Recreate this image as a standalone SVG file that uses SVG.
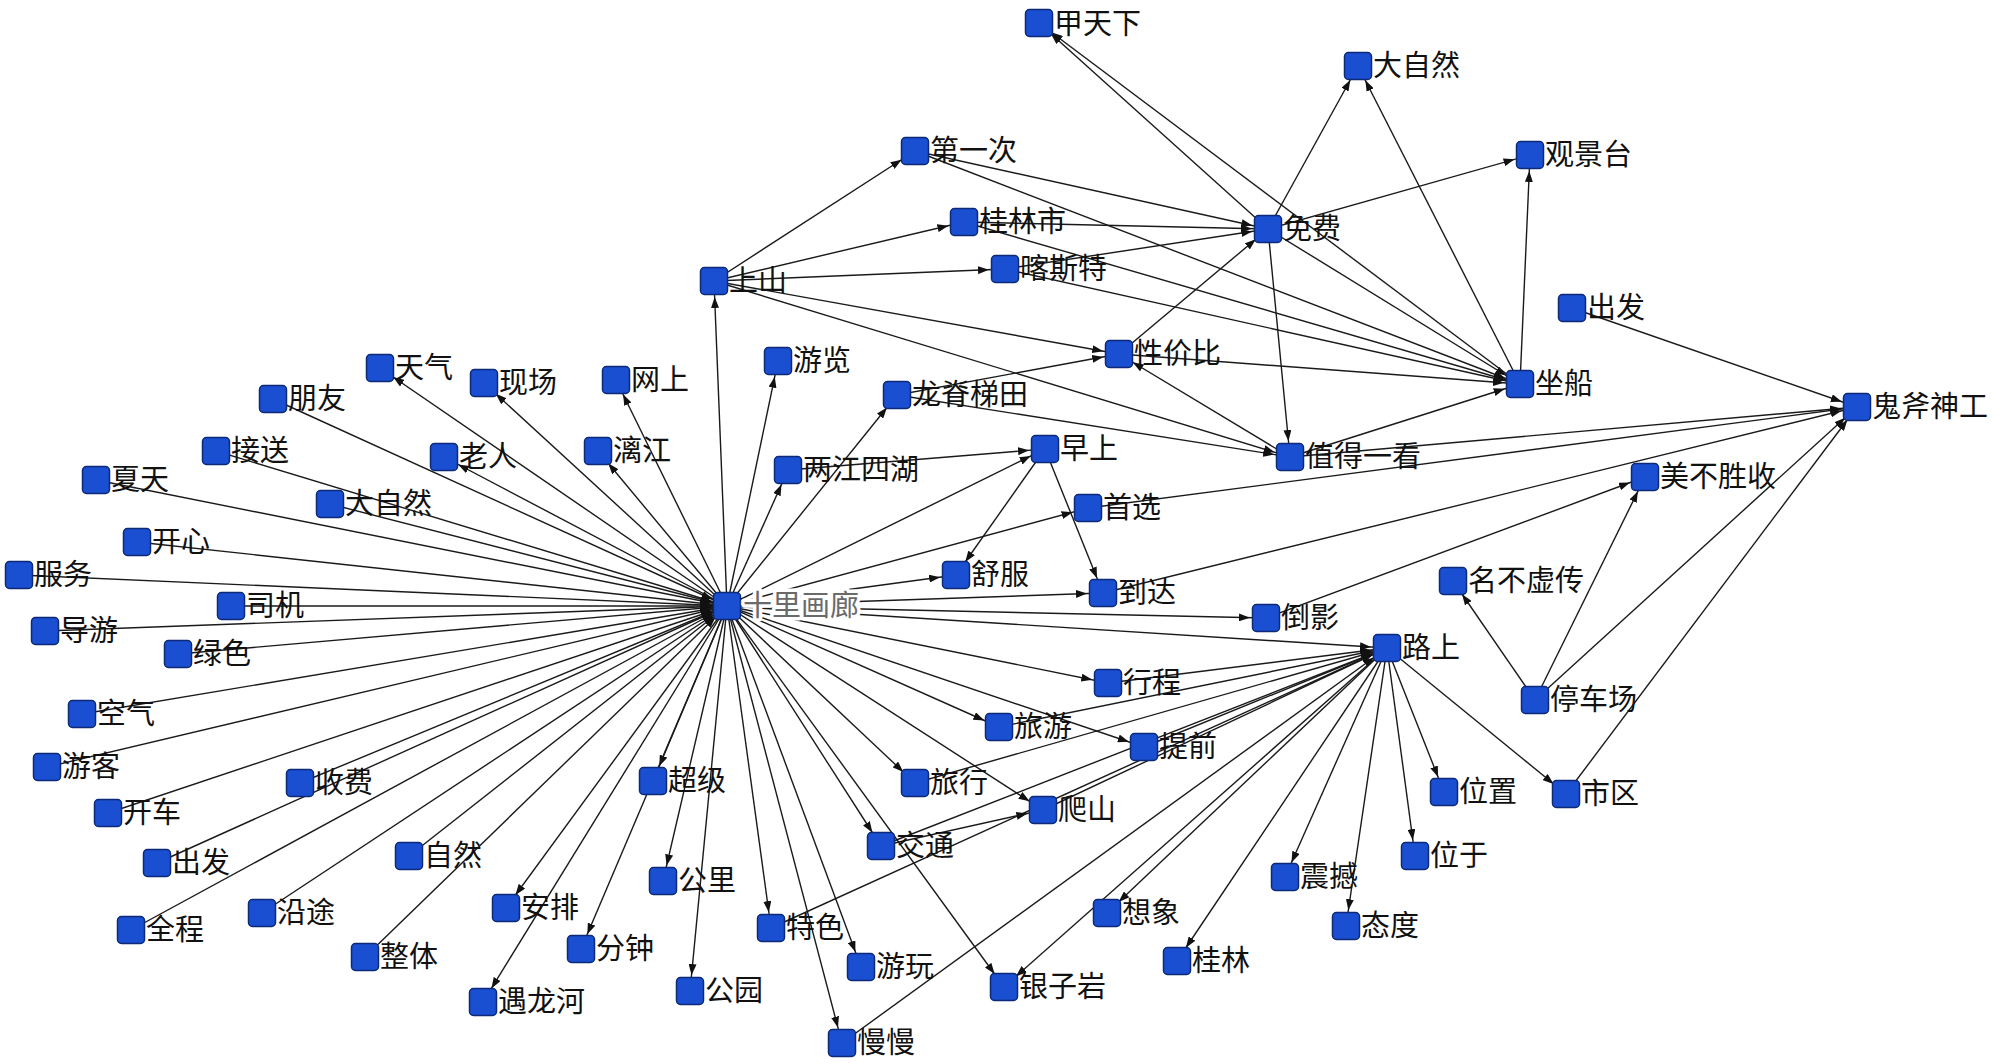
<svg xmlns="http://www.w3.org/2000/svg" width="1999" height="1064" viewBox="0 0 1999 1064">
<style>
.e{stroke:#1a1a1a;stroke-width:1.4;fill:none;marker-end:url(#a)}
.n{fill:#1a4fd2;stroke:#0c2a78;stroke-width:1.5}
.t{font-family:"Noto Sans CJK SC","Noto Sans CJK JP",sans-serif;font-size:29px;fill:#111}
.hub{fill:#6a6a6a;stroke:#fff;stroke-width:7px;stroke-linejoin:round;paint-order:stroke}
</style>
<defs>
<marker id="a" viewBox="0 0 11 8" refX="27" refY="4" markerWidth="11" markerHeight="8" markerUnits="userSpaceOnUse" orient="auto"><path d="M0,0L11,4L0,8z" fill="#111"/></marker>
</defs>
<rect width="1999" height="1064" fill="#fff"/>
<g id="connectors">
<line class="e" x1="273" y1="399" x2="727" y2="606"/>
<line class="e" x1="216" y1="451" x2="727" y2="606"/>
<line class="e" x1="96" y1="480" x2="727" y2="606"/>
<line class="e" x1="330" y1="504" x2="727" y2="606"/>
<line class="e" x1="137" y1="542" x2="727" y2="606"/>
<line class="e" x1="19" y1="575" x2="727" y2="606"/>
<line class="e" x1="231" y1="606" x2="727" y2="606"/>
<line class="e" x1="45" y1="631" x2="727" y2="606"/>
<line class="e" x1="178" y1="654" x2="727" y2="606"/>
<line class="e" x1="82" y1="714" x2="727" y2="606"/>
<line class="e" x1="47" y1="767" x2="727" y2="606"/>
<line class="e" x1="108" y1="813" x2="727" y2="606"/>
<line class="e" x1="300" y1="783" x2="727" y2="606"/>
<line class="e" x1="157" y1="863" x2="727" y2="606"/>
<line class="e" x1="131" y1="930" x2="727" y2="606"/>
<line class="e" x1="262" y1="913" x2="727" y2="606"/>
<line class="e" x1="409" y1="856" x2="727" y2="606"/>
<line class="e" x1="365" y1="957" x2="727" y2="606"/>
<line class="e" x1="727" y1="606" x2="380" y2="368"/>
<line class="e" x1="727" y1="606" x2="484" y2="383"/>
<line class="e" x1="727" y1="606" x2="616" y2="380"/>
<line class="e" x1="727" y1="606" x2="598" y2="451"/>
<line class="e" x1="727" y1="606" x2="444" y2="457"/>
<line class="e" x1="727" y1="606" x2="714" y2="281"/>
<line class="e" x1="727" y1="606" x2="778" y2="361"/>
<line class="e" x1="727" y1="606" x2="788" y2="470"/>
<line class="e" x1="727" y1="606" x2="897" y2="395"/>
<line class="e" x1="727" y1="606" x2="1045" y2="449"/>
<line class="e" x1="727" y1="606" x2="1088" y2="508"/>
<line class="e" x1="727" y1="606" x2="956" y2="575"/>
<line class="e" x1="727" y1="606" x2="1103" y2="593"/>
<line class="e" x1="727" y1="606" x2="1266" y2="618"/>
<line class="e" x1="727" y1="606" x2="1387" y2="648"/>
<line class="e" x1="727" y1="606" x2="1108" y2="683"/>
<line class="e" x1="727" y1="606" x2="999" y2="727"/>
<line class="e" x1="727" y1="606" x2="1144" y2="747"/>
<line class="e" x1="727" y1="606" x2="915" y2="783"/>
<line class="e" x1="727" y1="606" x2="1043" y2="810"/>
<line class="e" x1="727" y1="606" x2="881" y2="846"/>
<line class="e" x1="727" y1="606" x2="1004" y2="987"/>
<line class="e" x1="727" y1="606" x2="861" y2="967"/>
<line class="e" x1="727" y1="606" x2="842" y2="1043"/>
<line class="e" x1="727" y1="606" x2="771" y2="928"/>
<line class="e" x1="727" y1="606" x2="690" y2="991"/>
<line class="e" x1="727" y1="606" x2="663" y2="881"/>
<line class="e" x1="727" y1="606" x2="653" y2="781"/>
<line class="e" x1="727" y1="606" x2="581" y2="949"/>
<line class="e" x1="727" y1="606" x2="483" y2="1002"/>
<line class="e" x1="727" y1="606" x2="506" y2="908"/>
<line class="e" x1="714" y1="281" x2="915" y2="151"/>
<line class="e" x1="714" y1="281" x2="964" y2="222"/>
<line class="e" x1="714" y1="281" x2="1005" y2="269"/>
<line class="e" x1="714" y1="281" x2="1119" y2="354"/>
<line class="e" x1="714" y1="281" x2="1290" y2="457"/>
<line class="e" x1="897" y1="395" x2="1119" y2="354"/>
<line class="e" x1="897" y1="395" x2="1290" y2="457"/>
<line class="e" x1="1290" y1="457" x2="1119" y2="354"/>
<line class="e" x1="915" y1="151" x2="1268" y2="229"/>
<line class="e" x1="964" y1="222" x2="1268" y2="229"/>
<line class="e" x1="1005" y1="269" x2="1268" y2="229"/>
<line class="e" x1="1119" y1="354" x2="1268" y2="229"/>
<line class="e" x1="915" y1="151" x2="1520" y2="384"/>
<line class="e" x1="964" y1="222" x2="1520" y2="384"/>
<line class="e" x1="1005" y1="269" x2="1520" y2="384"/>
<line class="e" x1="1119" y1="354" x2="1520" y2="384"/>
<line class="e" x1="1268" y1="229" x2="1520" y2="384"/>
<line class="e" x1="1290" y1="457" x2="1520" y2="384"/>
<line class="e" x1="1268" y1="229" x2="1039" y2="23"/>
<line class="e" x1="1520" y1="384" x2="1039" y2="23"/>
<line class="e" x1="1268" y1="229" x2="1358" y2="66"/>
<line class="e" x1="1520" y1="384" x2="1358" y2="66"/>
<line class="e" x1="1268" y1="229" x2="1530" y2="155"/>
<line class="e" x1="1520" y1="384" x2="1530" y2="155"/>
<line class="e" x1="1268" y1="229" x2="1290" y2="457"/>
<line class="e" x1="1290" y1="457" x2="1857" y2="407"/>
<line class="e" x1="1572" y1="308" x2="1857" y2="407"/>
<line class="e" x1="1088" y1="508" x2="1857" y2="407"/>
<line class="e" x1="1103" y1="593" x2="1857" y2="407"/>
<line class="e" x1="1535" y1="700" x2="1857" y2="407"/>
<line class="e" x1="1566" y1="794" x2="1857" y2="407"/>
<line class="e" x1="1535" y1="700" x2="1645" y2="477"/>
<line class="e" x1="1535" y1="700" x2="1453" y2="581"/>
<line class="e" x1="1266" y1="618" x2="1645" y2="477"/>
<line class="e" x1="788" y1="470" x2="1045" y2="449"/>
<line class="e" x1="1045" y1="449" x2="956" y2="575"/>
<line class="e" x1="1045" y1="449" x2="1103" y2="593"/>
<line class="e" x1="1387" y1="648" x2="1444" y2="792"/>
<line class="e" x1="1387" y1="648" x2="1415" y2="856"/>
<line class="e" x1="1387" y1="648" x2="1566" y2="794"/>
<line class="e" x1="1387" y1="648" x2="1285" y2="877"/>
<line class="e" x1="1387" y1="648" x2="1346" y2="926"/>
<line class="e" x1="1387" y1="648" x2="1177" y2="961"/>
<line class="e" x1="1387" y1="648" x2="1107" y2="913"/>
<line class="e" x1="1387" y1="648" x2="1004" y2="987"/>
<line class="e" x1="1108" y1="683" x2="1387" y2="648"/>
<line class="e" x1="999" y1="727" x2="1387" y2="648"/>
<line class="e" x1="1144" y1="747" x2="1387" y2="648"/>
<line class="e" x1="915" y1="783" x2="1387" y2="648"/>
<line class="e" x1="1043" y1="810" x2="1387" y2="648"/>
<line class="e" x1="842" y1="1043" x2="1387" y2="648"/>
<line class="e" x1="881" y1="846" x2="1387" y2="648"/>
<line class="e" x1="771" y1="928" x2="1387" y2="648"/>
<line class="e" x1="881" y1="846" x2="1043" y2="810"/>
</g>
<g id="n-shili"><rect class="n" x="713.5" y="592.5" width="27" height="27" rx="4"/><text class="t hub" x="743" y="616">十里画廊</text></g>
<g id="n-tianqi"><rect class="n" x="366.5" y="354.5" width="27" height="27" rx="4"/><text class="t" x="395" y="378">天气</text></g>
<g id="n-xianchang"><rect class="n" x="470.5" y="369.5" width="27" height="27" rx="4"/><text class="t" x="499" y="393">现场</text></g>
<g id="n-wangshang"><rect class="n" x="602.5" y="366.5" width="27" height="27" rx="4"/><text class="t" x="631" y="390">网上</text></g>
<g id="n-pengyou"><rect class="n" x="259.5" y="385.5" width="27" height="27" rx="4"/><text class="t" x="288" y="409">朋友</text></g>
<g id="n-jiesong"><rect class="n" x="202.5" y="437.5" width="27" height="27" rx="4"/><text class="t" x="231" y="461">接送</text></g>
<g id="n-laoren"><rect class="n" x="430.5" y="443.5" width="27" height="27" rx="4"/><text class="t" x="459" y="467">老人</text></g>
<g id="n-lijiang"><rect class="n" x="584.5" y="437.5" width="27" height="27" rx="4"/><text class="t" x="613" y="461">漓江</text></g>
<g id="n-xiatian"><rect class="n" x="82.5" y="466.5" width="27" height="27" rx="4"/><text class="t" x="111" y="490">夏天</text></g>
<g id="n-daziran1"><rect class="n" x="316.5" y="490.5" width="27" height="27" rx="4"/><text class="t" x="345" y="514">大自然</text></g>
<g id="n-kaixin"><rect class="n" x="123.5" y="528.5" width="27" height="27" rx="4"/><text class="t" x="152" y="552">开心</text></g>
<g id="n-fuwu"><rect class="n" x="5.5" y="561.5" width="27" height="27" rx="4"/><text class="t" x="34" y="585">服务</text></g>
<g id="n-siji"><rect class="n" x="217.5" y="592.5" width="27" height="27" rx="4"/><text class="t" x="246" y="616">司机</text></g>
<g id="n-daoyou"><rect class="n" x="31.5" y="617.5" width="27" height="27" rx="4"/><text class="t" x="60" y="641">导游</text></g>
<g id="n-lvse"><rect class="n" x="164.5" y="640.5" width="27" height="27" rx="4"/><text class="t" x="193" y="664">绿色</text></g>
<g id="n-kongqi"><rect class="n" x="68.5" y="700.5" width="27" height="27" rx="4"/><text class="t" x="97" y="724">空气</text></g>
<g id="n-youke"><rect class="n" x="33.5" y="753.5" width="27" height="27" rx="4"/><text class="t" x="62" y="777">游客</text></g>
<g id="n-kaiche"><rect class="n" x="94.5" y="799.5" width="27" height="27" rx="4"/><text class="t" x="123" y="823">开车</text></g>
<g id="n-shoufei"><rect class="n" x="286.5" y="769.5" width="27" height="27" rx="4"/><text class="t" x="315" y="793">收费</text></g>
<g id="n-chufa1"><rect class="n" x="143.5" y="849.5" width="27" height="27" rx="4"/><text class="t" x="172" y="873">出发</text></g>
<g id="n-ziran"><rect class="n" x="395.5" y="842.5" width="27" height="27" rx="4"/><text class="t" x="424" y="866">自然</text></g>
<g id="n-quancheng"><rect class="n" x="117.5" y="916.5" width="27" height="27" rx="4"/><text class="t" x="146" y="940">全程</text></g>
<g id="n-yantu"><rect class="n" x="248.5" y="899.5" width="27" height="27" rx="4"/><text class="t" x="277" y="923">沿途</text></g>
<g id="n-anpai"><rect class="n" x="492.5" y="894.5" width="27" height="27" rx="4"/><text class="t" x="521" y="918">安排</text></g>
<g id="n-zhengti"><rect class="n" x="351.5" y="943.5" width="27" height="27" rx="4"/><text class="t" x="380" y="967">整体</text></g>
<g id="n-fenzhong"><rect class="n" x="567.5" y="935.5" width="27" height="27" rx="4"/><text class="t" x="596" y="959">分钟</text></g>
<g id="n-yulonghe"><rect class="n" x="469.5" y="988.5" width="27" height="27" rx="4"/><text class="t" x="498" y="1012">遇龙河</text></g>
<g id="n-chaoji"><rect class="n" x="639.5" y="767.5" width="27" height="27" rx="4"/><text class="t" x="668" y="791">超级</text></g>
<g id="n-gongli"><rect class="n" x="649.5" y="867.5" width="27" height="27" rx="4"/><text class="t" x="678" y="891">公里</text></g>
<g id="n-gongyuan"><rect class="n" x="676.5" y="977.5" width="27" height="27" rx="4"/><text class="t" x="705" y="1001">公园</text></g>
<g id="n-lvyou"><rect class="n" x="985.5" y="713.5" width="27" height="27" rx="4"/><text class="t" x="1014" y="737">旅游</text></g>
<g id="n-tiqian"><rect class="n" x="1130.5" y="733.5" width="27" height="27" rx="4"/><text class="t" x="1159" y="757">提前</text></g>
<g id="n-lvxing"><rect class="n" x="901.5" y="769.5" width="27" height="27" rx="4"/><text class="t" x="930" y="793">旅行</text></g>
<g id="n-pashan"><rect class="n" x="1029.5" y="796.5" width="27" height="27" rx="4"/><text class="t" x="1058" y="820">爬山</text></g>
<g id="n-jiaotong"><rect class="n" x="867.5" y="832.5" width="27" height="27" rx="4"/><text class="t" x="896" y="856">交通</text></g>
<g id="n-tese"><rect class="n" x="757.5" y="914.5" width="27" height="27" rx="4"/><text class="t" x="786" y="938">特色</text></g>
<g id="n-youwan"><rect class="n" x="847.5" y="953.5" width="27" height="27" rx="4"/><text class="t" x="876" y="977">游玩</text></g>
<g id="n-yinziyan"><rect class="n" x="990.5" y="973.5" width="27" height="27" rx="4"/><text class="t" x="1019" y="997">银子岩</text></g>
<g id="n-manman"><rect class="n" x="828.5" y="1029.5" width="27" height="27" rx="4"/><text class="t" x="857" y="1053">慢慢</text></g>
<g id="n-xiangxiang"><rect class="n" x="1093.5" y="899.5" width="27" height="27" rx="4"/><text class="t" x="1122" y="923">想象</text></g>
<g id="n-guilin"><rect class="n" x="1163.5" y="947.5" width="27" height="27" rx="4"/><text class="t" x="1192" y="971">桂林</text></g>
<g id="n-zhenhan"><rect class="n" x="1271.5" y="863.5" width="27" height="27" rx="4"/><text class="t" x="1300" y="887">震撼</text></g>
<g id="n-weizhi"><rect class="n" x="1430.5" y="778.5" width="27" height="27" rx="4"/><text class="t" x="1459" y="802">位置</text></g>
<g id="n-shiqu"><rect class="n" x="1552.5" y="780.5" width="27" height="27" rx="4"/><text class="t" x="1581" y="804">市区</text></g>
<g id="n-weiyu"><rect class="n" x="1401.5" y="842.5" width="27" height="27" rx="4"/><text class="t" x="1430" y="866">位于</text></g>
<g id="n-taidu"><rect class="n" x="1332.5" y="912.5" width="27" height="27" rx="4"/><text class="t" x="1361" y="936">态度</text></g>
<g id="n-tingchechang"><rect class="n" x="1521.5" y="686.5" width="27" height="27" rx="4"/><text class="t" x="1550" y="710">停车场</text></g>
<g id="n-mingbuxuchuan"><rect class="n" x="1439.5" y="567.5" width="27" height="27" rx="4"/><text class="t" x="1468" y="591">名不虚传</text></g>
<g id="n-lushang"><rect class="n" x="1373.5" y="634.5" width="27" height="27" rx="4"/><text class="t" x="1402" y="658">路上</text></g>
<g id="n-meibushengshou"><rect class="n" x="1631.5" y="463.5" width="27" height="27" rx="4"/><text class="t" x="1660" y="487">美不胜收</text></g>
<g id="n-guifushengong"><rect class="n" x="1843.5" y="393.5" width="27" height="27" rx="4"/><text class="t" x="1872" y="417">鬼斧神工</text></g>
<g id="n-zuochuan"><rect class="n" x="1506.5" y="370.5" width="27" height="27" rx="4"/><text class="t" x="1535" y="394">坐船</text></g>
<g id="n-chufa2"><rect class="n" x="1558.5" y="294.5" width="27" height="27" rx="4"/><text class="t" x="1587" y="318">出发</text></g>
<g id="n-guanjingtai"><rect class="n" x="1516.5" y="141.5" width="27" height="27" rx="4"/><text class="t" x="1545" y="165">观景台</text></g>
<g id="n-daziran2"><rect class="n" x="1344.5" y="52.5" width="27" height="27" rx="4"/><text class="t" x="1373" y="76">大自然</text></g>
<g id="n-jiatianxia"><rect class="n" x="1025.5" y="9.5" width="27" height="27" rx="4"/><text class="t" x="1054" y="34">甲天下</text></g>
<g id="n-diyici"><rect class="n" x="901.5" y="137.5" width="27" height="27" rx="4"/><text class="t" x="930" y="161">第一次</text></g>
<g id="n-guilinshi"><rect class="n" x="950.5" y="208.5" width="27" height="27" rx="4"/><text class="t" x="979" y="232">桂林市</text></g>
<g id="n-mianfei"><rect class="n" x="1254.5" y="215.5" width="27" height="27" rx="4"/><text class="t" x="1283" y="239">免费</text></g>
<g id="n-kasite"><rect class="n" x="991.5" y="255.5" width="27" height="27" rx="4"/><text class="t" x="1020" y="279">喀斯特</text></g>
<g id="n-shangshan"><rect class="n" x="700.5" y="267.5" width="27" height="27" rx="4"/><text class="t" x="729" y="291">上山</text></g>
<g id="n-xingjiabi"><rect class="n" x="1105.5" y="340.5" width="27" height="27" rx="4"/><text class="t" x="1134" y="364">性价比</text></g>
<g id="n-youlan"><rect class="n" x="764.5" y="347.5" width="27" height="27" rx="4"/><text class="t" x="793" y="371">游览</text></g>
<g id="n-longji"><rect class="n" x="883.5" y="381.5" width="27" height="27" rx="4"/><text class="t" x="912" y="405">龙脊梯田</text></g>
<g id="n-liangjiang"><rect class="n" x="774.5" y="456.5" width="27" height="27" rx="4"/><text class="t" x="803" y="480">两江四湖</text></g>
<g id="n-zaoshang"><rect class="n" x="1031.5" y="435.5" width="27" height="27" rx="4"/><text class="t" x="1060" y="459">早上</text></g>
<g id="n-zhide"><rect class="n" x="1276.5" y="443.5" width="27" height="27" rx="4"/><text class="t" x="1305" y="467">值得一看</text></g>
<g id="n-shouxuan"><rect class="n" x="1074.5" y="494.5" width="27" height="27" rx="4"/><text class="t" x="1103" y="518">首选</text></g>
<g id="n-shufu"><rect class="n" x="942.5" y="561.5" width="27" height="27" rx="4"/><text class="t" x="971" y="585">舒服</text></g>
<g id="n-daoda"><rect class="n" x="1089.5" y="579.5" width="27" height="27" rx="4"/><text class="t" x="1118" y="603">到达</text></g>
<g id="n-daoying"><rect class="n" x="1252.5" y="604.5" width="27" height="27" rx="4"/><text class="t" x="1281" y="628">倒影</text></g>
<g id="n-xingcheng"><rect class="n" x="1094.5" y="669.5" width="27" height="27" rx="4"/><text class="t" x="1123" y="693">行程</text></g>
</svg>
